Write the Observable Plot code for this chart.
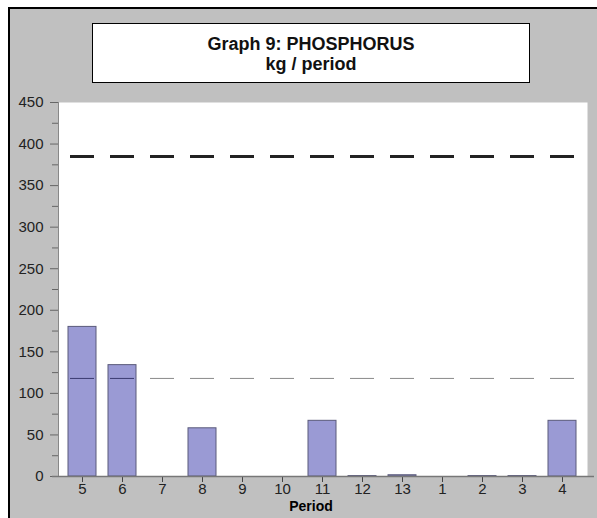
<!DOCTYPE html>
<html>
<head>
<meta charset="utf-8">
<script src="https://cdn.jsdelivr.net/npm/d3@7"></script>
<script src="https://cdn.jsdelivr.net/npm/@observablehq/plot@0.6"></script>
<style>
  html, body { margin: 0; padding: 0; background: #fff; width: 597px; height: 518px; overflow: hidden; }
  #frame { position: absolute; left: 8px; top: 7px; width: 600px; height: 520px; background: #c0c0c0;
           border-left: 2px solid #000; border-top: 2px solid #000; box-sizing: border-box; }
  #titlebox { position: absolute; left: 92px; top: 23px; width: 438px; height: 60px; background: #fff;
              border: 1px solid #000; box-sizing: border-box; text-align: center;
              font-family: Arial, "Liberation Sans", sans-serif; font-weight: bold; font-size: 18px; line-height: 20px; padding-top: 10px; color: #111; }
  #chart { position: absolute; left: 0; top: 0; }
</style>
</head>
<body>
<div id="frame"></div>
<div id="titlebox">Graph 9: PHOSPHORUS<br>kg / period</div>
<div id="chart"></div>
<script>
const periods = ["5","6","7","8","9","10","11","12","13","1","2","3","4"];
const values  = [180, 134, 0, 58, 0, 0, 67, 0.5, 1.5, 0, 0.5, 0.5, 67];
const upperLimit = 385;
const lowerLimit = 118;
const yMajorTicks = [0, 50, 100, 150, 200, 250, 300, 350, 400, 450];
const yMinorTicks = [25, 75, 125, 175, 225, 275, 325, 375, 425];
const xLabel = "Period";

const data = periods.map((p, i) => ({period: p, value: values[i]}));
const limits = periods.map(p => ({period: p, upper: upperLimit, lower: lowerLimit}));
const insideBar = new Set(data.filter(d => d.value > lowerLimit).map(d => d.period));

const chart = Plot.plot({
  width: 597,
  height: 518,
  marginLeft: 58,
  marginRight: 10,
  marginTop: 102,
  marginBottom: 42,
  style: {background: "transparent", fontFamily: "Arial, 'Liberation Sans', sans-serif", fontSize: "15px", color: "#222"},
  x: {domain: periods, paddingInner: 0.29, paddingOuter: 0.145, label: null},
  y: {domain: [0, 450], label: null},
  marks: [
    Plot.frame({fill: "#fff", stroke: null}),
    Plot.frame({anchor: "left", stroke: "#888"}),
    Plot.barY(data, {x: "period", y: "value", fill: "#9a9ad4", stroke: "#5a5a7a", strokeWidth: 1}),
    Plot.tickY(limits, {x: "period", y: "lower", stroke: d => insideBar.has(d.period) ? "#3a3a70" : "#8a8a8a", strokeWidth: 1, insetLeft: 2, insetRight: 2}),
    Plot.tickY(limits, {x: "period", y: "upper", stroke: "#222", strokeWidth: 3, insetLeft: 2, insetRight: 2}),
    Plot.axisY(yMajorTicks, {tickSize: 8, stroke: "#666", fill: "#222", tickPadding: 7, fontSize: 15}),
    Plot.axisY(yMinorTicks, {tickSize: 6, stroke: "#666", text: null}),
    Plot.axisX({tickSize: 6, stroke: "#444", fill: "#222", tickPadding: 1, fontSize: 15}),
    Plot.ruleY([0], {stroke: "#777", strokeWidth: 1.5, insetLeft: -6, insetRight: -7}),
    Plot.text([xLabel], {frameAnchor: "bottom", dy: 34, dx: -12, fontWeight: "bold", fontSize: 14, fill: "#000"})
  ]
});
document.getElementById("chart").appendChild(chart);
</script>
</body>
</html>
